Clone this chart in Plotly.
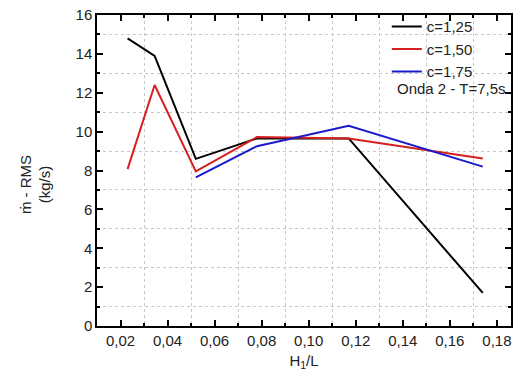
import plotly.graph_objects as go

x_vals = [0.023, 0.0345, 0.052, 0.078, 0.117, 0.174]
c125 = [14.8, 13.9, 8.6, 9.65, 9.65, 1.7]
c150 = [8.07, 12.4, 7.95, 9.72, 9.65, 8.62]
c175 = [None, None, 7.65, 9.25, 10.3, 8.2]
names = ["c=1,25", "c=1,50", "c=1,75"]
colors = ["#000000", "#d42020", "#1a1acc"]

fig = go.Figure()
for name, ys, col in zip(names, [c125, c150, c175], colors):
    fig.add_trace(go.Scatter(x=x_vals, y=ys, mode="lines", name=name,
                             line=dict(color=col, width=2), connectgaps=False))

font = dict(family="Liberation Sans, Arial, sans-serif", size=15, color="#222")
axis_common = dict(showline=True, linecolor="black", linewidth=1.5, mirror="ticks",
                   ticks="inside", ticklen=6, tickwidth=1.5, tickcolor="black",
                   showgrid=False, zeroline=False, tickfont=font)
fig.update_xaxes(range=[0.01, 0.186], tickmode="array",
                 tickvals=[0.02, 0.04, 0.06, 0.08, 0.10, 0.12, 0.14, 0.16, 0.18],
                 tickformat=".2f",
                 minor=dict(dtick=0.02, tick0=0.01, ticks="inside", ticklen=3, tickcolor="black",
                            showgrid=True, gridcolor="#c8c8c8", griddash="dot", gridwidth=1),
                 title=dict(text="H<sub>1</sub>/L", font=font, standoff=8),
                 **axis_common)
fig.update_yaxes(range=[0, 16], dtick=2,
                 minor=dict(dtick=2, tick0=1, ticks="inside", ticklen=3, tickcolor="black",
                            showgrid=True, gridcolor="#c8c8c8", griddash="dot", gridwidth=1),
                 **axis_common)

# y-axis title as rotated annotation
fig.add_annotation(xref="paper", yref="paper", x=0, y=0.453, xshift=-62,
                   xanchor="center", yanchor="middle", textangle=-90,
                   text="ṁ - RMS<br>(kg/s)", showarrow=False, font=font)

fig.add_annotation(xref="paper", yref="paper", x=1.003, y=0.765, xanchor="right", yanchor="middle",
                   text="Onda 2 - T=7,5s.", showarrow=False, font=font)

fig.update_layout(width=523, height=383,
                  margin=dict(l=97, r=12, t=15, b=57, autoexpand=False),
                  plot_bgcolor="white", paper_bgcolor="white", separators=",.",
                  font=font,
                  legend=dict(x=0.7, y=1.015, xanchor="left", yanchor="top", bgcolor="rgba(0,0,0,0)",
                              font=font, tracegroupgap=0, itemwidth=30))
fig.write_html("out.html")
